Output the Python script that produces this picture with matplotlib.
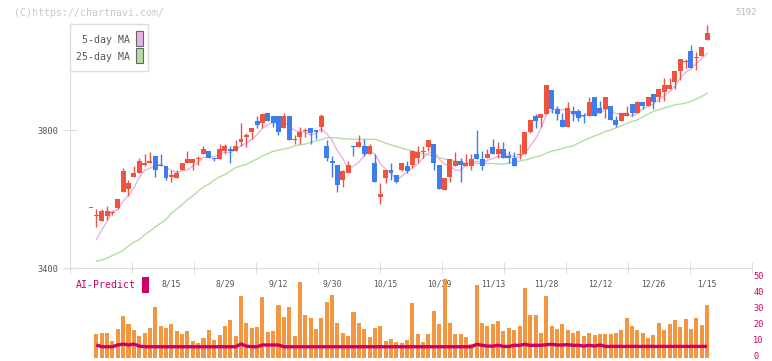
import numpy as np
import matplotlib.pyplot as plt
import matplotlib.transforms as mtransforms
from matplotlib.patches import Rectangle

# ---- data (one entry per trading day) ----
date_labels = ['8/15', '8/29', '9/12', '9/30', '10/15', '10/29',
               '11/13', '11/28', '12/12', '12/26', '1/15']
date_pos = [15, 25, 35, 45, 55, 65, 75, 85, 95, 105, 115]

opens = [3575, 3550, 3535, 3550, 3558, 3575, 3620, 3630, 3665, 3675,
         3700, 3705, 3725, 3700, 3695, 3665, 3660, 3685, 3705, 3705,
         3715, 3730, 3740, 3720, 3715, 3740, 3745, 3740, 3765, 3780,
         3795, 3825, 3820, 3850, 3840, 3840, 3805, 3840, 3770, 3780,
         3798, 3805, 3800, 3810, 3755, 3710, 3700, 3655, 3675, 3755,
         3750, 3755, 3730, 3705, 3605, 3660, 3685, 3670, 3685, 3695,
         3700, 3720, 3735, 3750, 3760, 3700, 3625, 3665, 3695, 3710,
         3695, 3695, 3730, 3715, 3720, 3750, 3730, 3745, 3725, 3720,
         3728, 3730, 3795, 3840, 3835, 3845, 3915, 3860, 3830, 3810,
         3855, 3855, 3842, 3840, 3895, 3865, 3860, 3870, 3830, 3825,
         3840, 3875, 3850, 3880, 3870, 3905, 3895, 3910, 3920, 3940,
         3970, 3998, 4030, 4008, 4015, 4060]
highs = [3575, 3570, 3570, 3580, 3565, 3600, 3690, 3655, 3695, 3720,
         3730, 3735, 3725, 3730, 3695, 3685, 3685, 3705, 3740, 3715,
         3725, 3755, 3740, 3720, 3760, 3760, 3755, 3770, 3820, 3790,
         3805, 3840, 3845, 3850, 3840, 3840, 3850, 3840, 3785, 3810,
         3805, 3805, 3800, 3845, 3770, 3725, 3700, 3685, 3710, 3755,
         3785, 3775, 3760, 3730, 3645, 3685, 3705, 3670, 3705, 3710,
         3740, 3755, 3755, 3770, 3760, 3700, 3660, 3715, 3735, 3720,
         3730, 3730, 3800, 3740, 3745, 3775, 3765, 3765, 3740, 3735,
         3760, 3795, 3830, 3845, 3845, 3930, 3915, 3870, 3850, 3880,
         3870, 3860, 3850, 3895, 3895, 3885, 3895, 3870, 3840, 3850,
         3870, 3875, 3885, 3880, 3895, 3905, 3920, 3950, 3950, 3970,
         4005, 4005, 4045, 4025, 4040, 4105]
lows = [3575, 3520, 3535, 3540, 3555, 3570, 3620, 3610, 3665, 3675,
        3695, 3705, 3665, 3695, 3655, 3650, 3660, 3685, 3705, 3685,
        3700, 3730, 3720, 3710, 3715, 3730, 3705, 3740, 3755, 3750,
        3775, 3805, 3805, 3825, 3810, 3785, 3805, 3770, 3760, 3760,
        3780, 3760, 3775, 3795, 3710, 3665, 3620, 3635, 3675, 3725,
        3750, 3725, 3730, 3650, 3585, 3645, 3655, 3645, 3680, 3675,
        3690, 3705, 3720, 3740, 3685, 3630, 3625, 3650, 3695, 3650,
        3695, 3685, 3715, 3685, 3720, 3730, 3720, 3720, 3705, 3695,
        3715, 3730, 3790, 3805, 3810, 3845, 3850, 3830, 3810, 3810,
        3825, 3825, 3820, 3840, 3840, 3850, 3835, 3830, 3810, 3825,
        3840, 3840, 3850, 3860, 3870, 3860, 3880, 3885, 3920, 3920,
        3945, 3980, 3980, 3975, 4015, 4060]
closes = [3575, 3555, 3565, 3565, 3560, 3600, 3680, 3645, 3675, 3710,
          3705, 3710, 3685, 3695, 3660, 3670, 3675, 3705, 3715, 3715,
          3720, 3745, 3720, 3715, 3745, 3755, 3740, 3755, 3775, 3785,
          3805, 3815, 3845, 3825, 3820, 3795, 3840, 3770, 3772, 3795,
          3800, 3790, 3795, 3840, 3720, 3705, 3640, 3680, 3700, 3750,
          3765, 3730, 3755, 3650, 3615, 3685, 3675, 3650, 3705, 3680,
          3740, 3735, 3740, 3770, 3705, 3630, 3660, 3715, 3710, 3700,
          3705, 3715, 3715, 3695, 3730, 3730, 3745, 3720, 3720, 3695,
          3730, 3795, 3830, 3825, 3845, 3930, 3860, 3845, 3810, 3865,
          3845, 3835, 3840, 3880, 3840, 3850, 3895, 3830, 3815, 3850,
          3850, 3850, 3880, 3870, 3895, 3880, 3920, 3930, 3930, 3970,
          4005, 4000, 3980, 4010, 4040, 4080]

ma5 = [np.nan, 3482, 3510, 3535, 3564, 3569, 3594, 3610, 3632, 3662,
       3683, 3689, 3697, 3701, 3691, 3684, 3677, 3681, 3684, 3696,
       3706, 3720, 3723, 3723, 3729, 3736, 3735, 3742, 3754, 3762,
       3772, 3787, 3805, 3815, 3822, 3820, 3825, 3810, 3799, 3794,
       3795, 3785, 3790, 3804, 3789, 3770, 3740, 3717, 3689, 3695,
       3707, 3725, 3740, 3730, 3703, 3687, 3676, 3655, 3666, 3679,
       3690, 3702, 3720, 3733, 3738, 3716, 3701, 3696, 3684, 3683,
       3698, 3709, 3709, 3706, 3712, 3717, 3723, 3724, 3729, 3722,
       3722, 3732, 3754, 3775, 3805, 3845, 3858, 3861, 3858, 3862,
       3845, 3840, 3839, 3853, 3848, 3849, 3861, 3859, 3846, 3848,
       3848, 3839, 3849, 3860, 3869, 3875, 3889, 3899, 3911, 3926,
       3951, 3967, 3977, 3993, 4007, 4022]
ma25 = [np.nan, 3420, 3423, 3429, 3436, 3443, 3451, 3464, 3475, 3482,
        3496, 3507, 3519, 3530, 3540, 3559, 3571, 3583, 3598, 3609,
        3623, 3635, 3643, 3655, 3664, 3671, 3681, 3691, 3696, 3700,
        3709, 3716, 3725, 3732, 3738, 3742, 3745, 3748, 3754, 3757,
        3759, 3765, 3768, 3772, 3777, 3778, 3777, 3775, 3774, 3773,
        3773, 3773, 3773, 3773, 3768, 3762, 3757, 3752, 3748, 3743,
        3739, 3735, 3732, 3728, 3724, 3720, 3716, 3713, 3710, 3706,
        3703, 3703, 3703, 3703, 3703, 3703, 3702, 3701, 3704, 3707,
        3710, 3713, 3717, 3722, 3726, 3733, 3739, 3742, 3746, 3751,
        3754, 3762, 3770, 3776, 3783, 3788, 3796, 3800, 3806, 3812,
        3819, 3825, 3829, 3838, 3846, 3854, 3859, 3864, 3868, 3873,
        3875, 3878, 3883, 3890, 3897, 3906]

volume = [np.nan, 14.9, 15.5, 15.5, 10.5, 18.1, 26.2, 21.2, 17.4, 13.6,
          15.5, 18.7, 31.9, 19.9, 18.7, 21.2, 16.8, 14.9, 16.8, 10.5,
          9.2, 12.4, 17.4, 11.1, 14.3, 19.9, 23.7, 13.6, 38.8, 21.8,
          18.7, 19.3, 38.2, 16.2, 16.8, 33.2, 25.6, 31.9, 13.6, 47.6,
          26.9, 25.0, 18.1, 25.0, 35.1, 39.7, 21.8, 15.5, 13.6, 28.8,
          21.8, 18.1, 13.0, 18.7, 19.9, 10.5, 11.8, 9.9, 9.2, 11.1,
          34.4, 14.9, 9.9, 14.9, 29.4, 21.2, 49.5, 21.8, 14.9, 14.9,
          13.0, 8.6, 45.8, 21.8, 19.9, 21.2, 23.1, 16.8, 18.7, 17.4,
          19.9, 43.9, 26.9, 26.9, 15.5, 38.8, 19.9, 18.1, 21.2, 17.4,
          15.5, 16.8, 13.6, 15.5, 14.3, 14.9, 14.9, 14.9, 15.5, 17.4,
          25.0, 19.9, 17.4, 15.5, 12.4, 14.3, 21.8, 17.4, 21.2, 23.7,
          19.3, 24.3, 18.1, 25.0, 20.6, 33.2]
ai_predict = [np.nan, 8.0, 6.9, 6.9, 6.9, 8.0, 8.6, 8.0, 8.6, 7.3,
              6.9, 6.9, 6.9, 6.9, 6.9, 6.9, 6.9, 6.9, 6.9, 6.9,
              6.9, 6.9, 6.9, 6.9, 6.9, 6.9, 6.9, 6.9, 8.6, 7.3,
              6.9, 6.9, 8.0, 8.0, 8.0, 8.0, 6.9, 6.9, 6.9, 6.9,
              6.9, 6.9, 6.9, 6.9, 6.9, 6.9, 6.9, 6.9, 6.9, 6.9,
              6.9, 6.9, 6.9, 6.9, 6.9, 6.9, 6.9, 6.9, 6.9, 6.9,
              6.9, 6.9, 6.9, 6.9, 6.9, 6.9, 6.9, 6.9, 6.9, 6.9,
              6.9, 6.9, 8.4, 7.8, 7.3, 7.3, 7.8, 7.1, 7.1, 7.8,
              7.8, 8.4, 7.8, 7.8, 7.8, 8.2, 8.4, 8.0, 8.0, 8.2,
              7.8, 7.8, 7.3, 7.8, 7.3, 8.0, 7.1, 7.1, 7.1, 7.1,
              7.1, 7.1, 7.1, 7.1, 7.1, 7.1, 7.1, 7.1, 7.1, 7.1,
              7.1, 7.1, 7.1, 7.1, 7.1, 7.1]

# ---- colours / layout ----
RED = '#ee5340'
BLUE = '#3d7dee'
PINK = '#e8b2e8'
GREEN = '#b4dca4'
ORANGE = '#f29641'
MAGENTA = '#cc0066'
GRID = '#dddddd'
MONO = 'DejaVu Sans Mono'

W, H = 772, 361
fig = plt.figure(figsize=(W / 100, H / 100), dpi=100)


def fx(px):
    return px / W


def fy(py):
    return 1 - py / H


# candle i sits at pixel 91 + 5.357*i
x0, dx = 91, 5.357
xlim = ((70 - x0) / dx, (752 - x0) / dx)
idx = np.arange(len(closes))

o = np.array(opens, float)
c = np.array(closes, float)
hi = np.array(highs, float)
lo = np.array(lows, float)
up = c >= o
cols = np.where(up, RED, BLUE)

# main price panel
ax = fig.add_axes([fx(70), fy(268), fx(752) - fx(70), fy(24) - fy(268)])
ax.set_xlim(*xlim)
ax.set_ylim(3400, 3400 + 244 * 400 / 138)

ax.plot(idx, ma25, color=GREEN, lw=1, zorder=2)
ax.plot(idx, ma5, color=PINK, lw=1, zorder=2)
ax.vlines(idx, lo, hi, colors=cols, lw=1, zorder=3)
body_h = np.maximum(np.abs(c - o), 3)
ax.bar(idx, body_h, bottom=np.minimum(o, c), width=0.93, color=cols,
       linewidth=0, zorder=4)

for s in ['top', 'right']:
    ax.spines[s].set_visible(False)
for s in ['left', 'bottom']:
    ax.spines[s].set_color(GRID)

ax.set_yticks([3400, 3800], ['3400', '3800'])
ax.tick_params(axis='y', length=10, direction='inout', color=GRID,
               labelcolor='#555555', labelsize=6.2, pad=3)
for t in ax.get_yticklabels():
    t.set_family(MONO)

ax.set_xticks(np.linspace(xlim[0], xlim[1], 12), [])
ax.tick_params(axis='x', which='major', length=8, direction='inout', color=GRID)
ax.set_xticks(date_pos, date_labels, minor=True)
ax.tick_params(axis='x', which='minor', length=0, pad=8,
               labelcolor='#555555', labelsize=5.8)
for t in ax.get_xticklabels(minor=True):
    t.set_family(MONO)

# volume / AI panel
ax2 = fig.add_axes([fx(70), fy(357.7), fx(752) - fx(70), fy(276) - fy(357.7)])
ax2.set_zorder(2)
ax2.patch.set_visible(False)
ax2.set_xlim(*xlim)
ax2.set_ylim(0, (357.7 - 276) / 1.588)
ax2.bar(idx, volume, width=0.75, color=ORANGE, linewidth=0)
ax2.plot(idx, ai_predict, color=MAGENTA, lw=2.4, solid_capstyle='butt')
for s in ax2.spines.values():
    s.set_visible(False)
ax2.set_xticks([])
ax2.yaxis.tick_right()
ax2.set_yticks([0, 10, 20, 30, 40, 50])
ax2.tick_params(axis='y', length=0, pad=1, labelcolor=MAGENTA, labelsize=6.2)
nudge = mtransforms.ScaledTranslation(0, 2.5 / 100, fig.dpi_scale_trans)
for t in ax2.get_yticklabels():
    t.set_family(MONO)
    t.set_transform(t.get_transform() + nudge)

# header texts
fig.text(fx(14), fy(12.5), '(C)https://chartnavi.com/', color='#c8c8c8',
         fontsize=7.1, family=MONO, va='center', ha='left')
fig.text(fx(757), fy(12.5), '5192', color='#bbbbbb', fontsize=6.5,
         family=MONO, va='center', ha='right')

# legend box
fig.add_artist(Rectangle((fx(70), fy(71.3)), fx(148.3) - fx(70), fy(24) - fy(71.3),
                         transform=fig.transFigure, facecolor='white',
                         edgecolor=GRID, lw=1, zorder=5))
fig.text(fx(129.5), fy(40), '5-day MA', color='#555555', fontsize=7.1,
         family=MONO, va='center', ha='right', zorder=6)
fig.text(fx(129.5), fy(57.3), '25-day MA', color='#555555', fontsize=7.1,
         family=MONO, va='center', ha='right', zorder=6)
fig.add_artist(Rectangle((fx(136.3), fy(46)), fx(142.7) - fx(136.3), fy(31) - fy(46),
                         transform=fig.transFigure, facecolor=PINK,
                         edgecolor='#666666', lw=0.8, zorder=6))
fig.add_artist(Rectangle((fx(136.3), fy(63.3)), fx(142.7) - fx(136.3), fy(48.3) - fy(63.3),
                         transform=fig.transFigure, facecolor=GREEN,
                         edgecolor='#666666', lw=0.8, zorder=6))

# AI-Predict label
fig.text(fx(76), fy(285), 'AI-Predict', color=MAGENTA, fontsize=7.1,
         family=MONO, va='center', ha='left')
fig.add_artist(Rectangle((fx(142), fy(293)), fx(149) - fx(142), fy(277) - fy(293),
                         transform=fig.transFigure, facecolor=MAGENTA,
                         edgecolor='none', zorder=5))

fig.savefig('out.png', dpi=100)
